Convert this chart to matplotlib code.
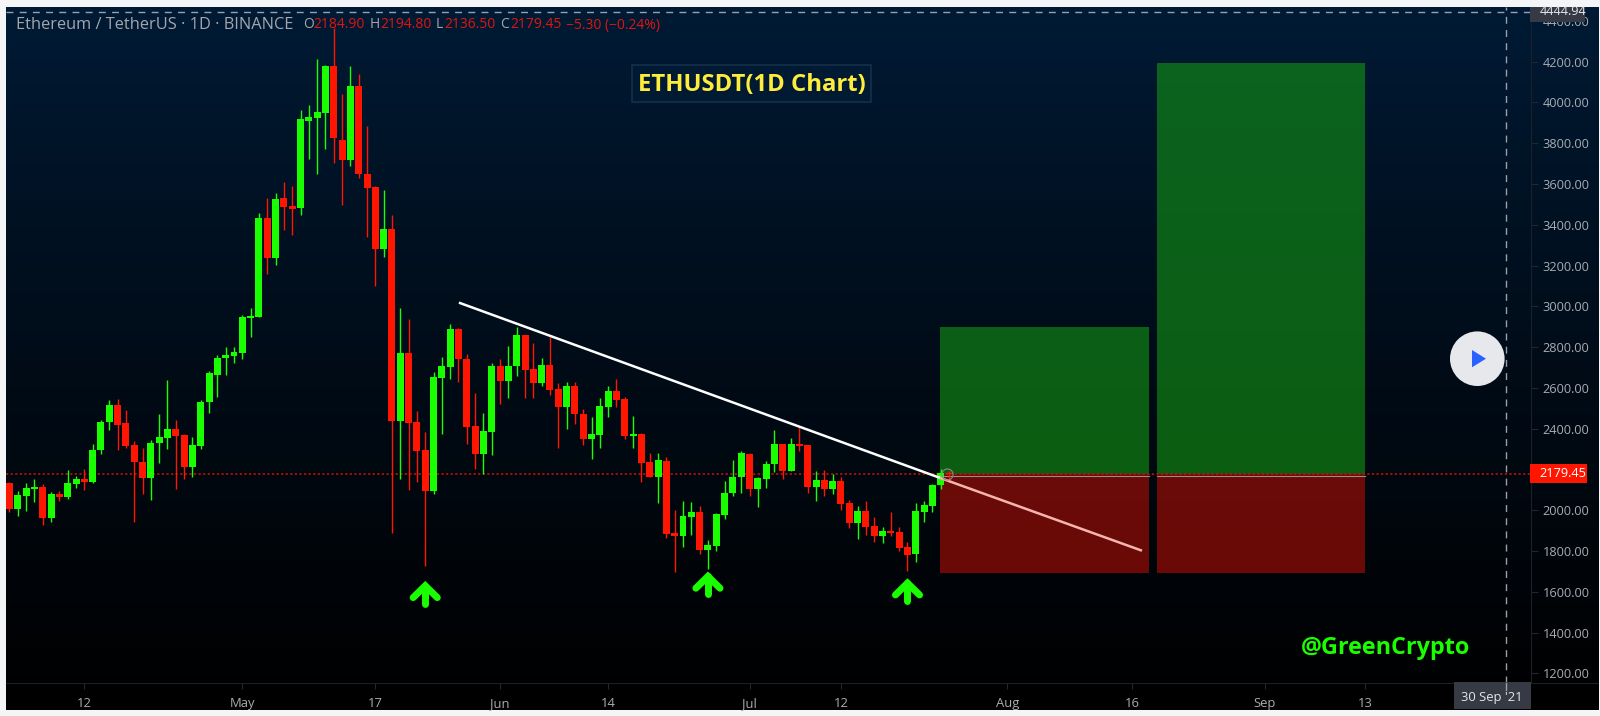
'''
ETHUSDT daily candles with trend line and target boxes
'''
import numpy as np
import matplotlib
matplotlib.use('Agg')
import matplotlib.pyplot as plt
from matplotlib.patches import Circle, Polygon, Rectangle

plt.rcParams['font.family'] = ['Open Sans', 'DejaVu Sans']

# candles, one per day from 3 Apr 2021
opens = [2134, 2006, 2071, 2104, 2112, 1960, 2079, 2065, 2130, 2153,
         2137, 2298, 2432, 2514, 2426, 2318, 2236, 2158, 2328, 2355,
         2400, 2367, 2210, 2316, 2531, 2665, 2748, 2757, 2773, 2941,
         2948, 3433, 3237, 3531, 3492, 3480, 3910, 3925, 3946, 4178,
         3814, 3717, 4080, 3649, 3583, 3281, 3377, 2436, 2771, 2433,
         2295, 2094, 2647, 2704, 2887, 2743, 2413, 2277, 2384, 2709,
         2634, 2706, 2859, 2691, 2625, 2712, 2594, 2505, 2609, 2472,
         2351, 2367, 2506, 2583, 2545, 2366, 2376, 2237, 2163, 2243,
         1887, 1876, 1965, 1991, 1805, 1826, 1978, 2083, 2163, 2277,
         2104, 2153, 2225, 2323, 2192, 2323, 2318, 2114, 2147, 2106,
         2142, 2034, 1938, 1995, 1921, 1872, 1900, 1892, 1818, 1784,
         1993, 2023, 2122, 2184.90]
highs = [2140, 2094, 2132, 2153, 2128, 2088, 2097, 2200, 2166, 2202,
         2323, 2445, 2543, 2548, 2494, 2341, 2303, 2347, 2471, 2640,
         2445, 2373, 2357, 2543, 2681, 2761, 2799, 2799, 2956, 2990,
         3457, 3533, 3554, 3609, 3590, 3962, 3985, 4212, 4183, 4362,
         4039, 4178, 4139, 3882, 3590, 3568, 3446, 2990, 2939, 2487,
         2382, 2676, 2750, 2911, 2892, 2766, 2575, 2478, 2722, 2740,
         2805, 2897, 2859, 2818, 2745, 2848, 2624, 2629, 2627, 2498,
         2457, 2550, 2609, 2643, 2557, 2462, 2377, 2279, 2279, 2259,
         2001, 2045, 2039, 2021, 1853, 1985, 2145, 2246, 2289, 2279,
         2163, 2240, 2392, 2325, 2353, 2408, 2320, 2191, 2196, 2178,
         2165, 2049, 2019, 2044, 1965, 1918, 1991, 1920, 1843, 2034,
         2044, 2129, 2201, 2194.80]
lows = [1991, 1972, 1999, 2043, 1926, 1944, 2047, 2055, 2110, 2099,
        2133, 2277, 2396, 2298, 2306, 1944, 2078, 2052, 2231, 2300,
        2104, 2151, 2164, 2300, 2479, 2557, 2665, 2722, 2743, 2851,
        2948, 3158, 3201, 3376, 3350, 3448, 3724, 3650, 3773, 3701,
        3498, 3689, 3631, 3341, 3101, 3240, 1887, 2152, 2099, 2140,
        1727, 2080, 2375, 2643, 2630, 2325, 2202, 2179, 2271, 2523,
        2549, 2660, 2552, 2552, 2611, 2567, 2305, 2400, 2424, 2320,
        2253, 2307, 2457, 2505, 2349, 2304, 2137, 2161, 2037, 1862,
        1696, 1818, 1879, 1787, 1712, 1800, 1957, 2072, 2086, 2070,
        2016, 2109, 2188, 2155, 2191, 2292, 2083, 2044, 2072, 2078,
        2003, 1915, 1861, 1879, 1846, 1841, 1875, 1800, 1704, 1748,
        1944, 1991, 2103, 2136.50]
closes = [2006, 2076, 2107, 2114, 1960, 2079, 2065, 2132, 2153, 2137,
          2298, 2434, 2514, 2419, 2315, 2236, 2158, 2331, 2357, 2400,
          2365, 2210, 2320, 2532, 2672, 2748, 2760, 2774, 2948, 2951,
          3433, 3237, 3526, 3488, 3479, 3917, 3928, 3951, 4178, 3823,
          3717, 4080, 3647, 3582, 3282, 3377, 2436, 2771, 2428, 2292,
          2094, 2652, 2705, 2887, 2740, 2410, 2277, 2387, 2709, 2634,
          2709, 2859, 2689, 2625, 2714, 2591, 2506, 2609, 2470, 2351,
          2372, 2513, 2583, 2541, 2366, 2376, 2232, 2163, 2245, 1884,
          1876, 1970, 1991, 1807, 1831, 1983, 2086, 2165, 2279, 2104,
          2157, 2227, 2323, 2192, 2323, 2313, 2116, 2147, 2106, 2142,
          2029, 1938, 1995, 1918, 1872, 1900, 1889, 1817, 1782, 1995,
          2024, 2126, 2185, 2179.45]

last_price = 2179.45
cross_price = 4444.94
cross_day = 180
date_ticks = [9, 28, 44, 59, 72, 89, 100, 120, 135, 151, 163]
date_labels = ['12', 'May', '17', 'Jun', '14', 'Jul', '12', 'Aug', '16',
               'Sep', '13']
price_ticks = list(range(1200, 4600, 200))

# trend line, target boxes, marked lows
trend_days = [54.05, 111.9, 136.2]
trend_prices = [3018, 2159, 1802]
box_days = [(111.9, 137.04), (138.0, 163.0)]
box_tops = [2899, 4191]
box_bottom = 1692
arrow_days = [50, 84, 108]
arrow_tips = [1630, 1676, 1643]

GREEN = '#1aff00'
RED = '#ff1500'

W, H = 1600, 716
fig = plt.figure(figsize=(W / 100, H / 100), dpi=100, facecolor='#f4f5f7')


def px_axes(left, top, right, bottom):
    return fig.add_axes([left / W, 1 - bottom / H,
                         (right - left) / W, (bottom - top) / H])


# panel background, dark blue fading to black
bg = px_axes(5.5, 7, 1598, 710)
grad = np.linspace(0, 1, 256).reshape(-1, 1, 1)
top_col = np.array([0, 27, 54]) / 255
grad = (1 - grad ** 0.85) * top_col.reshape(1, 1, 3)
bg.imshow(grad, aspect='auto', extent=(0, 1, 0, 1))
bg.axis('off')

ax = px_axes(5.5, 7, 1530.7, 682.7)
ax.patch.set_alpha(0)
ax.set_xlim(-0.48, 182.95)
ax.set_ylim(1154.9, 4467.2)

# target boxes
for (d0, d1), top in zip(box_days, box_tops):
    ax.add_patch(Rectangle((d0, last_price), d1 - d0, top - last_price,
                           fc=(20 / 255, 150 / 255, 20 / 255), alpha=0.6,
                           ec='none', zorder=1))
    ax.add_patch(Rectangle((d0, box_bottom), d1 - d0, last_price - box_bottom,
                           fc=(178 / 255, 14 / 255, 5 / 255), alpha=0.6,
                           ec='none', zorder=1))
    ax.plot([d0, d1], [last_price - 9, last_price - 9], color='#a08a80',
            lw=0.8, zorder=1.5)

ax.axhline(last_price, color='#c8120c', lw=1.1, ls=(0, (1.5, 1.5)), zorder=2)

# candles
days = np.arange(len(opens))
for d, o, hi, lo, c in zip(days, opens, highs, lows, closes):
    col = GREEN if c >= o else RED
    ax.plot([d, d], [lo, hi], color=col, lw=1.0, solid_capstyle='butt',
            zorder=3)
    ax.bar(d, abs(c - o), bottom=min(o, c), width=0.84, color=col, zorder=3.5)

# trend line, paler where it crosses the red box
ax.plot(trend_days[:2], trend_prices[:2], color='white', lw=1.8, zorder=4,
        solid_capstyle='butt')
ax.plot(trend_days[1:], trend_prices[1:], color='#f7b4ae', lw=1.8, zorder=4,
        solid_capstyle='butt')
ax.plot([112.7], [last_price], 'o', ms=8, mfc='none', mec='#8a8a8a', mew=0.8,
        zorder=4)

# arrows under the three lows
for d, tip in zip(arrow_days, arrow_tips):
    ax.plot([d - 1.45, d, d + 1.45], [tip - 58, tip, tip - 58], color=GREEN,
            lw=5, solid_capstyle='round', solid_joinstyle='miter', zorder=5)
    ax.plot([d, d], [tip, tip - 88], color=GREEN, lw=5,
            solid_capstyle='round', zorder=5)

# crosshair
cross = dict(color='#9b9fa8', lw=1, dashes=(5, 4.5), zorder=6)
ax.axhline(cross_price, **cross)
ax.axvline(cross_day, **cross)

ax.set_xticks(date_ticks)
ax.set_xticklabels(date_labels)
ax.set_yticks(price_ticks)
# 2200 sits under the red last price tag
ax.set_yticklabels(['' if p == 2200 else '%.2f' % p for p in price_ticks])
ax.yaxis.tick_right()
ax.tick_params(axis='x', colors='#23262e', labelcolor='#a8abb2', length=4,
               width=0.8, labelsize=9.4, pad=6)
ax.tick_params(axis='y', colors='#23262e', labelcolor='#a8abb2', length=5,
               width=0.8, labelsize=9.2, pad=3.5)
for side in ['top', 'left']:
    ax.spines[side].set_visible(False)
ax.spines['right'].set_color('#1d2028')
ax.spines['bottom'].set_color('#1d2028')

# overlay in pixels for tags, header and logo
ui = fig.add_axes([0, 0, 1, 1], zorder=10)
ui.set_xlim(0, W)
ui.set_ylim(H, 0)
ui.axis('off')

ui.plot([1530.7, 1598], [682.7, 682.7], color='#1d2028', lw=0.8)
ui.plot([1506.2, 1506.2], [682.7, 690], color='#9b9fa8', lw=1)

ui.add_patch(Rectangle((1530, 7), 55, 15, fc='#363a45', ec='none'))
ui.text(1563, 11.5, '%.2f' % cross_price, color='#e4e6ea', fontsize=9.2,
        ha='center', va='center')
ui.add_patch(Rectangle((1530, 464), 57, 19, fc=RED, ec='none'))
ui.text(1563, 473.5, '%.2f' % last_price, color='white', fontsize=9.2,
        ha='center', va='center')
ui.add_patch(Rectangle((1454, 682), 77, 27, fc='#363a45', ec='none'))
ui.text(1492, 697.5, "30 Sep '21", color='#e4e6ea', fontsize=9.4,
        ha='center', va='center')

ui.add_patch(Circle((1477.3, 358.7), 27.3, fc='#e6e8ec', ec='none'))
ui.add_patch(Polygon([(1472, 350), (1486, 358.7), (1472, 367.3)],
                     fc='#2962ff', ec='none'))

ui.add_patch(Rectangle((632, 65.3), 238.7, 36.4, fc='#001a33', ec='#16304a',
                       lw=1.2))
ui.text(751.5, 85, 'ETHUSDT(1D Chart)', color='#ffeb3b', fontsize=17.2,
        fontweight='bold', ha='center', va='center')
ui.text(1386, 648, '@GreenCrypto', color=GREEN, fontsize=16.8,
        fontweight='bold', ha='center', va='center')

GREY = '#a3a6ad'
VAL = '#e0150f'
ui.text(15.7, 25, 'Ethereum / TetherUS · 1D · BINANCE', color=GREY,
        fontsize=11.8, ha='left', va='center')
header = [(303, 'O', GREY), (313, '2184.90', VAL), (370, 'H', GREY),
          (380, '2194.80', VAL), (436, 'L', GREY), (444, '2136.50', VAL),
          (500, 'C', GREY), (510, '2179.45', VAL),
          (566, '−5.30 (−0.24%)', VAL)]
for x, s, c in header:
    ui.text(x, 25, s, color=c, fontsize=10, ha='left', va='center')

fig.savefig('out.png', dpi=100, facecolor=fig.get_facecolor())
